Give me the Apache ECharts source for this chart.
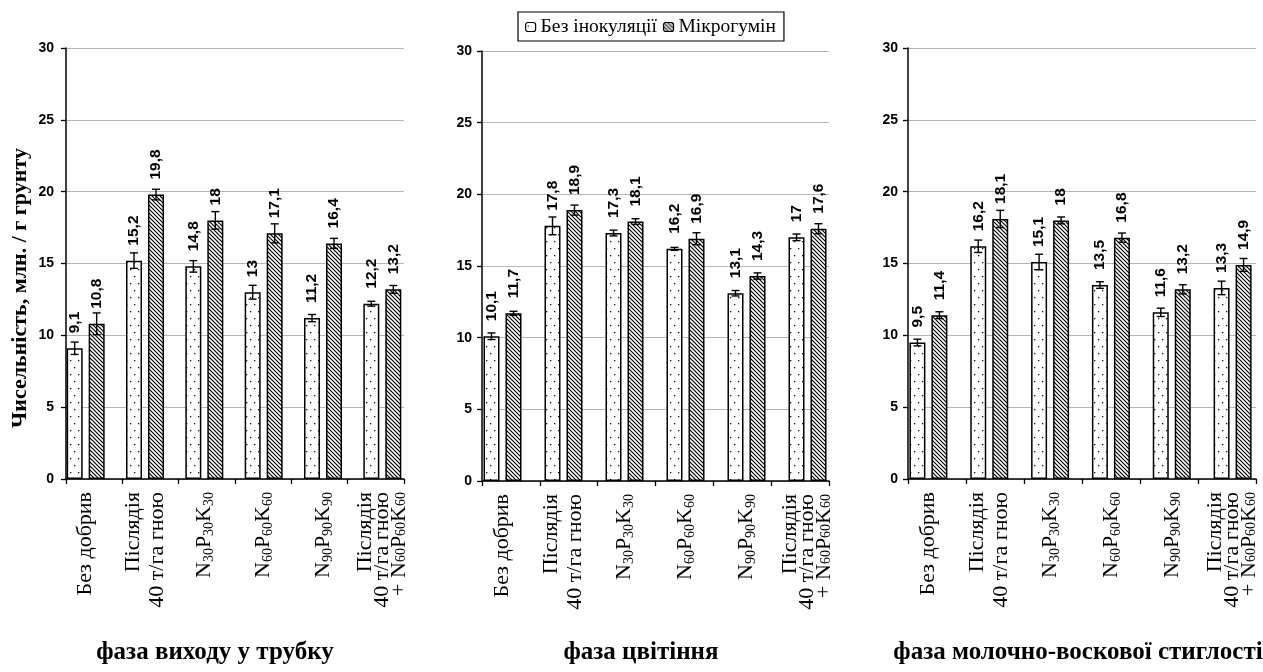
<!DOCTYPE html>
<html>
<head>
<meta charset="utf-8">
<script src="https://cdn.jsdelivr.net/npm/echarts@6/dist/echarts.min.js"></script>
<style>
  html, body { margin: 0; padding: 0; background: #fff; }
  #chart { width: 1263px; height: 672px; }
</style>
</head>
<body>
<div id="chart"></div>
<script>
// ---------- data ----------
const categories = ['Без добрив', 'Післядія\n40 т/га гною', 'N30P30K30', 'N60P60K60', 'N90P90K90', 'Післядія\n40 т/га гною\n+ N60P60K60'];
const seriesNames = ['Без інокуляції', 'Мікрогумін'];
const yTicks = [0, 5, 10, 15, 20, 25, 30];
const phaseTitles = ['фаза виходу у трубку', 'фаза цвітіння', 'фаза молочно-воскової стиглості'];
const yAxisTitle = 'Чисельність, млн. / г грунту';

const phase1None = [9.1, 15.2, 14.8, 13, 11.2, 12.2];
const phase1Micro = [10.8, 19.8, 18, 17.1, 16.4, 13.2];
const phase1NoneErr = [0.43, 0.54, 0.40, 0.48, 0.25, 0.17];
const phase1MicroErr = [0.76, 0.37, 0.61, 0.66, 0.35, 0.27];

const phase2None = [10.1, 17.8, 17.3, 16.2, 13.1, 17];
const phase2Micro = [11.7, 18.9, 18.1, 16.9, 14.3, 17.6];
const phase2NoneErr = [0.23, 0.62, 0.20, 0.10, 0.19, 0.23];
const phase2MicroErr = [0.14, 0.35, 0.20, 0.42, 0.22, 0.35];

const phase3None = [9.5, 16.2, 15.1, 13.5, 11.6, 13.3];
const phase3Micro = [11.4, 18.1, 18, 16.8, 13.2, 14.9];
const phase3NoneErr = [0.23, 0.43, 0.54, 0.23, 0.29, 0.47];
const phase3MicroErr = [0.24, 0.60, 0.24, 0.32, 0.32, 0.45];

const phases = [
  { none: phase1None, micro: phase1Micro, noneErr: phase1NoneErr, microErr: phase1MicroErr },
  { none: phase2None, micro: phase2Micro, noneErr: phase2NoneErr, microErr: phase2MicroErr },
  { none: phase3None, micro: phase3Micro, noneErr: phase3NoneErr, microErr: phase3MicroErr }
];

// ---------- layout (styling) ----------
const frameGrids = [
  { left: 66, width: 338, top: 48, height: 431 },
  { left: 482, width: 347, top: 51, height: 430 },
  { left: 908, width: 348, top: 48, height: 431 }
];
const barGrids = [
  { left: 56, width: 356, top: 48, height: 431 },
  { left: 472, width: 366, top: 51, height: 430 },
  { left: 898, width: 368, top: 48, height: 431 }
];
const titleX = [215, 641, 1078];
const BAR_W = 16, BAR_GAP = 6;

// ---------- patterns ----------
function dotPattern() {
  const c = document.createElement('canvas');
  c.width = 8; c.height = 14;
  const g = c.getContext('2d');
  g.fillStyle = '#fff'; g.fillRect(0, 0, 8, 14);
  g.fillStyle = '#111';
  g.fillRect(2, 3, 1.3, 1.3);
  g.fillRect(6, 10, 1.3, 1.3);
  return c;
}
function hatchPattern() {
  const c = document.createElement('canvas');
  c.width = 4; c.height = 4;
  const g = c.getContext('2d');
  g.fillStyle = '#fff'; g.fillRect(0, 0, 4, 4);
  g.strokeStyle = '#000'; g.lineWidth = 1.2;
  g.beginPath();
  g.moveTo(-1, -1); g.lineTo(5, 5);
  g.moveTo(-1, 3); g.lineTo(1, 5);
  g.moveTo(3, -1); g.lineTo(5, 1);
  g.stroke();
  return c;
}
const dotFill = { image: dotPattern(), repeat: 'repeat' };
const hatchFill = { image: hatchPattern(), repeat: 'repeat' };

const fmtNum = v => String(v).replace('.', ',');

function catFormatter(v) {
  return v.replace(/([NPK])(\d+)/g, '$1{s|$2}');
}

function errRender(offset) {
  return function (params, api) {
    const idx = api.value(0), v = api.value(1), e = api.value(2);
    const c = api.coord([idx, v]);
    const t = api.coord([idx, v + e]);
    const b = api.coord([idx, v - e]);
    const x = c[0] + offset;
    const cap = 4;
    const st = { stroke: '#000', lineWidth: 1.4 };
    return {
      type: 'group',
      children: [
        { type: 'line', shape: { x1: x, y1: t[1], x2: x, y2: b[1] }, style: st },
        { type: 'line', shape: { x1: x - cap, y1: t[1], x2: x + cap, y2: t[1] }, style: st },
        { type: 'line', shape: { x1: x - cap, y1: b[1], x2: x + cap, y2: b[1] }, style: st }
      ]
    };
  };
}

const grid = [], xAxis = [], yAxis = [], series = [], graphic = [];

phases.forEach((ph, p) => {
  grid.push(Object.assign({ containLabel: false }, frameGrids[p]));
  grid.push(Object.assign({ containLabel: false }, barGrids[p]));
  const fg = 2 * p, bg = 2 * p + 1;

  xAxis.push({
    type: 'category', gridIndex: fg, data: categories.map(() => ''),
    boundaryGap: true,
    axisLine: { show: true, lineStyle: { color: '#000', width: 1.5 } },
    axisTick: { show: true, length: 5, lineStyle: { color: '#000', width: 1.3 } },
    axisLabel: { show: false }, splitLine: { show: false }
  });
  yAxis.push({
    type: 'value', gridIndex: fg, min: 0, max: 30, interval: 5,
    axisLine: { show: true, lineStyle: { color: '#000', width: 1.5 } },
    axisTick: { show: true, length: 5, lineStyle: { color: '#000', width: 1.3 } },
    axisLabel: {
      margin: p === 0 ? 12 : 10, color: '#000', fontFamily: 'Liberation Sans', fontWeight: 'bold', fontSize: 14,
      formatter: v => yTicks.indexOf(v) >= 0 ? String(v) : ''
    },
    splitLine: { show: true, lineStyle: { color: '#b4b4b4', width: 1.2 } }
  });

  xAxis.push({
    type: 'category', gridIndex: bg,
    data: categories.map((c, i) => i === 5 ? { value: c, textStyle: { lineHeight: 17 } } : c),
    boundaryGap: true,
    axisLine: { show: false }, axisTick: { show: false }, splitLine: { show: false },
    axisLabel: {
      interval: 0, rotate: 90, margin: 13, color: '#000',
      fontFamily: 'Liberation Serif', fontSize: 22, lineHeight: 24,
      formatter: catFormatter,
      rich: { s: { fontSize: 14, fontFamily: 'Liberation Serif', color: '#000', verticalAlign: 'bottom' } }
    }
  });
  yAxis.push({ type: 'value', gridIndex: bg, min: 0, max: 30, interval: 5, show: false, splitLine: { show: false } });

  const labelCfg = {
    show: true, position: 'top', rotate: 90, distance: 15, align: 'left', verticalAlign: 'middle',
    color: '#000', fontFamily: 'Liberation Sans', fontWeight: 'bold', fontSize: 15.5,
    formatter: pr => fmtNum(pr.value)
  };

  series.push({
    name: seriesNames[0], type: 'bar', xAxisIndex: bg, yAxisIndex: bg,
    data: ph.none, barWidth: BAR_W, barGap: (BAR_GAP / BAR_W * 100) + '%',
    itemStyle: { color: dotFill, borderColor: '#000', borderWidth: 1.5 },
    label: labelCfg, z: 2
  });
  series.push({
    name: seriesNames[1], type: 'bar', xAxisIndex: bg, yAxisIndex: bg,
    data: ph.micro, barWidth: BAR_W, barGap: (BAR_GAP / BAR_W * 100) + '%',
    itemStyle: { color: hatchFill, borderColor: '#000', borderWidth: 1.5 },
    label: labelCfg, z: 2
  });
  const off = (BAR_W + BAR_GAP) / 2;
  series.push({
    type: 'custom', xAxisIndex: bg, yAxisIndex: bg, z: 5,
    renderItem: errRender(-off),
    data: ph.none.map((v, i) => [i, v, ph.noneErr[i]]), silent: true
  });
  series.push({
    type: 'custom', xAxisIndex: bg, yAxisIndex: bg, z: 5,
    renderItem: errRender(off),
    data: ph.micro.map((v, i) => [i, v, ph.microErr[i]]), silent: true
  });

  graphic.push({
    type: 'text', x: titleX[p], y: 653,
    style: { text: phaseTitles[p], font: 'bold 25px "Liberation Serif"', fill: '#000', align: 'center', verticalAlign: 'middle' }
  });
});

graphic.push({
  type: 'text', x: 20, y: 288, rotation: Math.PI / 2,
  style: { text: yAxisTitle, font: 'bold 22px "Liberation Serif"', fill: '#000', align: 'center', verticalAlign: 'middle' }
});

const chart = echarts.init(document.getElementById('chart'), null, { renderer: 'canvas' });
chart.setOption({
  animation: false,
  backgroundColor: '#fff',
  legend: {
    data: seriesNames, left: 518, top: 12,
    borderColor: '#000', borderWidth: 1.2, padding: [5, 8, 4, 7],
    itemWidth: 10, itemHeight: 9, itemGap: 6,
    textStyle: { fontFamily: 'Liberation Serif', fontSize: 19.5, color: '#000' },
    itemStyle: { borderColor: '#000', borderWidth: 1.2 }
  },
  grid, xAxis, yAxis, series, graphic
});
</script>
</body>
</html>
